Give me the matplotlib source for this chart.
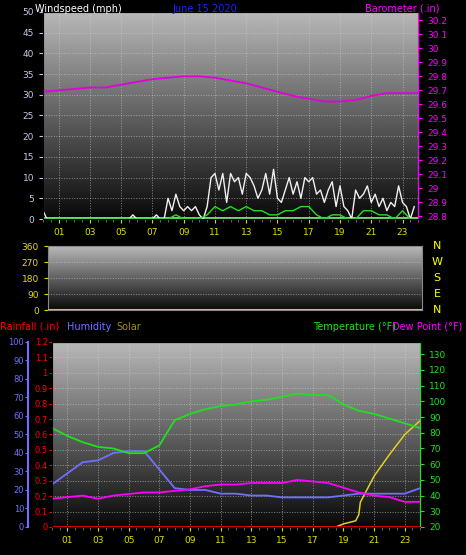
import matplotlib
matplotlib.use("Agg")
import matplotlib.pyplot as plt
import numpy as np

# ---- data ----
gust = [2,0,0,0, 0,0,0,0, 0,0,0,0, 0,0,0,0, 0,0,0,0, 0,0,0,1, 0,0,0,0, 0,1,0,0,
        5,2,6,3, 2,3,2,3, 1,0,3,10, 11,7,11,4, 11,9,10,6, 11,10,8,5, 7,11,6,12, 5,4,7,10,
        6,9,5,10, 9,10,6,7, 4,7,9,3, 8,3,2,0, 7,5,6,8, 4,6,3,5, 2,4,3,8, 4,3,0,3]
gust_hours = [i / 4 for i in range(len(gust))]
wind_avg = [0,0, 0,0, 0,0, 0,0, 0,0, 0,0, 0,0, 0,0, 0,1, 0,0, 0,1, 3,2, 3,2, 3,2, 2,1,
            1,2, 2,3, 3,1, 0,1, 1,0, 0,2, 2,1, 1,0, 2,0]
avg_hours = [i / 2 for i in range(len(wind_avg))]

hours = list(range(25))
barometer = [29.69, 29.70, 29.71, 29.72, 29.72, 29.74, 29.76, 29.78, 29.79, 29.80, 29.80, 29.79,
             29.77, 29.75, 29.72, 29.69, 29.66, 29.64, 29.62, 29.62, 29.63, 29.66, 29.68, 29.68, 29.68]
temperature = [83, 78, 74, 71, 70, 67, 67, 72, 88, 92, 95, 97, 98, 100, 101, 103, 105, 104, 104,
               98, 94, 92, 89, 86, 83]
dew_point = [38, 39, 40, 38, 40, 41, 42, 42, 43, 44, 46, 47, 47, 48, 48, 48, 50, 49, 48, 45, 42,
             40, 39, 36, 36]
humidity = [23, 29, 35, 36, 40, 41, 41, 31, 21, 20, 20, 18, 18, 17, 17, 16, 16, 16, 16, 17, 18,
            18, 18, 18, 21]
rainfall = [0.0] * 25
solar_hours = [12.7, 18.5, 19.0, 19.8, 20.0, 20.1, 21.0, 22.0, 23.0, 24.0]
solar = [0.0, 0.0, 0.02, 0.04, 0.08, 0.16, 0.33, 0.47, 0.60, 0.69]

xtick_labels = ["01", "03", "05", "07", "09", "11", "13", "15", "17", "19", "21", "23"]
dir_labels = ["N", "E", "S", "W", "N"]  # bottom to top
baro_ticks = [28.8, 28.9, 29.0, 29.1, 29.2, 29.3, 29.4, 29.5, 29.6, 29.7, 29.8, 29.9, 30.0, 30.1, 30.2]
baro_labels = ["28.8", "28.9", "29", "29.1", "29.2", "29.3", "29.4", "29.5", "29.6", "29.7",
               "29.8", "29.9", "30", "30.1", "30.2"]
rain_ticks = [0, 0.1, 0.2, 0.3, 0.4, 0.5, 0.6, 0.7, 0.8, 0.9, 1.0, 1.1, 1.2]
rain_labels = ["0", "0.1", "0.2", "0.3", "0.4", "0.5", "0.6", "0.7", "0.8", "0.9", "1", "1.1", "1.2"]

YEL = "#e0e000"
fs = 6.5
hfs = 7

fig = plt.figure(figsize=(4.66, 5.55), dpi=100, facecolor="black")
grad = np.linspace(0, 1, 256).reshape(-1, 1)


def style(ax, ymin, ymax):
    ax.set_facecolor("black")
    ax.imshow(grad, cmap="gray", vmin=-0.05, vmax=1.4, aspect="auto",
              extent=[0, 24, ymin, ymax], origin="lower", zorder=0)
    ax.set_xlim(0, 24)
    ax.set_ylim(ymin, ymax)
    ax.set_xticks(range(1, 24, 2))
    ax.set_xticklabels(xtick_labels)
    ax.set_xticks(np.arange(0, 24.1, 0.5), minor=True)
    ax.tick_params(axis="x", colors=YEL, labelsize=fs, length=3)
    ax.tick_params(axis="x", which="minor", colors="#777777", length=2)
    ax.grid(True, color="#d0d0d0", linestyle=":", linewidth=0.7, alpha=0.6)
    for s in ax.spines.values():
        s.set_color("#888888")


# ---- top: wind + barometer ----
ax1 = fig.add_axes([0.0923, 0.6054, 0.805, 0.373])
style(ax1, 0, 50)
ax1.set_yticks(range(0, 51, 5))
ax1.tick_params(axis="y", colors="#c8c8e8", labelsize=fs, length=3)
ax1.axhline(0.3, color="#80ff80", linewidth=1.2, zorder=2)
ax1.plot(gust_hours, gust, color="#f0f0f0", linewidth=1.0, zorder=3)
ax1.plot(avg_hours, wind_avg, color="#20e020", linewidth=1.0, zorder=4)
ax1b = ax1.twinx()
ax1b.set_ylim(28.78, 30.26)
ax1b.set_yticks(baro_ticks)
ax1b.set_yticklabels(baro_labels)
ax1b.tick_params(axis="y", colors="#ff00ff", labelsize=fs, length=3)
ax1b.spines["right"].set_color("#ff00ff")
ax1b.plot(hours, barometer, color="#e000e0", linewidth=1.3)
fig.text(0.075, 0.993, "Windspeed (mph)", color="white", fontsize=hfs, ha="left", va="top")
fig.text(0.37, 0.993, "June 15 2020", color="#2020ff", fontsize=hfs, ha="left", va="top")
fig.text(0.943, 0.993, "Barometer (.in)", color="#ff00ff", fontsize=hfs, ha="right", va="top")

# ---- middle: wind direction ----
ax2 = fig.add_axes([0.103, 0.4414, 0.8026, 0.1153])
style(ax2, 0, 360)
ax2.set_yticks([0, 90, 180, 270, 360])
ax2.tick_params(axis="y", colors=YEL, labelsize=fs, length=3)
ax2.set_xticks([])
ax2.set_xticks([], minor=True)
ax2.axhline(2, color="#d0d000", linewidth=1.5, zorder=3)
for i, lab in enumerate(dir_labels):
    ax2.text(1.04, i / 4, lab, color="#ffff00", fontsize=8, transform=ax2.transAxes,
             ha="center", va="center")

# ---- bottom: rain, humidity, solar, temp, dew ----
ax3 = fig.add_axes([0.1116, 0.0505, 0.79, 0.3333])
style(ax3, 0, 1.2)
ax3.set_yticks(rain_ticks)
ax3.set_yticklabels(rain_labels)
ax3.tick_params(axis="y", colors="#ff0000", labelsize=6, length=2, pad=1)
ax3.spines["left"].set_color("#ff3030")
ax3.spines["left"].set_linestyle(":")
ax3.plot(hours, rainfall, color="#ff0000", linewidth=2, zorder=5)
ax3.plot(solar_hours, solar, color="#e0d020", linewidth=1.1, zorder=4)

axh = ax3.twinx()
axh.yaxis.set_label_position("left")
axh.yaxis.tick_left()
axh.spines["left"].set_position(("outward", 17))
axh.spines["left"].set_color("#7070ff")
axh.spines["left"].set_linewidth(1.5)
axh.spines["right"].set_visible(False)
axh.set_ylim(0, 100)
axh.set_yticks(range(0, 101, 10))
axh.tick_params(axis="y", colors="#7070ff", labelsize=6, length=2, pad=1)
axh.plot(hours, humidity, color="#7070ff", linewidth=1.3)

axt = ax3.twinx()
axt.set_ylim(20, 137.8)
axt.set_yticks(range(20, 131, 10))
axt.tick_params(axis="y", colors="#20e020", labelsize=fs, length=3)
axt.spines["right"].set_color("#20e020")
axt.plot(hours, temperature, color="#20e020", linewidth=1.3)
axt.plot(hours, dew_point, color="#ff00ff", linewidth=1.3)

fig.text(0.0, 0.42, "Rainfall (.in)", color="#ff0000", fontsize=hfs, ha="left", va="top")
fig.text(0.143, 0.42, "Humidity", color="#7070ff", fontsize=hfs, ha="left", va="top")
fig.text(0.25, 0.42, "Solar", color="#a09020", fontsize=hfs, ha="left", va="top")
fig.text(0.672, 0.42, "Temperature (°F)", color="#20e020", fontsize=hfs, ha="left", va="top")
fig.text(0.993, 0.42, "Dew Point (°F)", color="#ff00ff", fontsize=hfs, ha="right", va="top")

fig.savefig("out.png", dpi=100, facecolor="black")
